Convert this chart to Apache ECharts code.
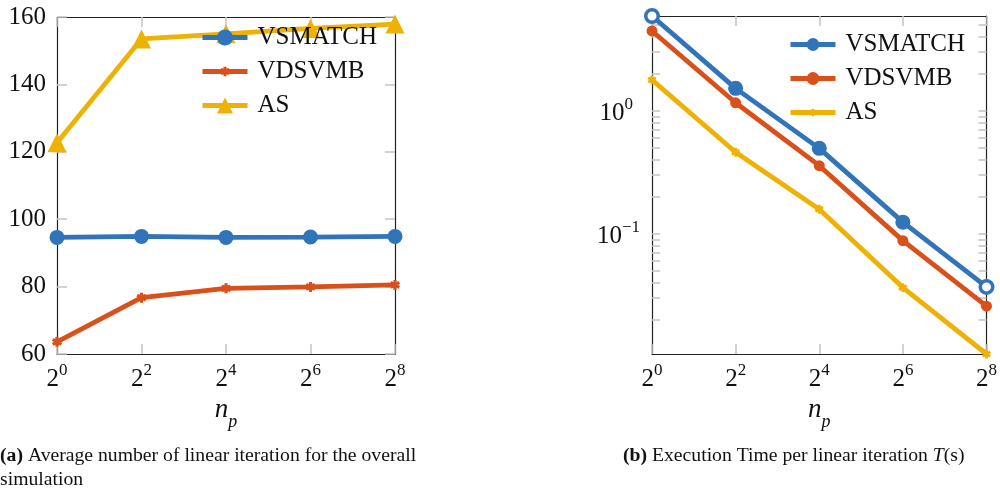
<!DOCTYPE html>
<html>
<head>
<meta charset="utf-8">
<script src="https://cdn.jsdelivr.net/npm/echarts@6/dist/echarts.min.js"></script>
<style>
  html, body { margin: 0; padding: 0; background: #fff; }
  #chart { width: 1000px; height: 492px; }
</style>
</head>
<body>
<div id="chart"></div>
<script>
// Number of processes n_p (powers of two)
const np = ['1', '4', '16', '64', '256'];

// (a) Average number of linear iterations
const iterVSMATCH = [94.6, 94.9, 94.6, 94.7, 94.9];
const iterVDSVMB  = [63.6, 76.7, 79.5, 79.9, 80.5];
const iterAS      = [122.7, 153.5, 155.0, 156.6, 157.9];

// (b) Execution time per linear iteration T(s)
const timeVSMATCH = [5.89, 1.52, 0.494, 0.124, 0.0369];
const timeVDSVMB  = [4.45, 1.16, 0.357, 0.0877, 0.0257];
const timeAS      = [1.78, 0.459, 0.158, 0.0364, 0.0105];

// Tick values
const iterTicks = [60, 80, 100, 120, 140, 160];
const timeMajor = [0.1, 1];
const timeMinor = [0.02, 0.03, 0.04, 0.05, 0.06, 0.07, 0.08, 0.09,
                   0.1, 0.2, 0.3, 0.4, 0.5, 0.6, 0.7, 0.8, 0.9, 1, 2, 3, 4, 5];

// log axis spans exactly the data range
const timeAll = [...timeVSMATCH, ...timeVDSVMB, ...timeAS];
const timeMin = Math.min(...timeAll);
const timeMax = Math.max(...timeAll);

const BLUE = '#3174b9';
const ORANGE = '#d9501a';
const YELLOW = '#edb204';
const SERIF = '"Liberation Serif", "DejaVu Serif", serif';
const TICK_COLOR = '#c4c4c4';
const BOX = '#222';

// six-armed asterisk with a transparent margin
const ASTERISK = 'path://M-8.5,-8.5 M8.5,8.5 ' +
  'M-1.6,-5 L1.6,-5 L1.6,5 L-1.6,5 Z ' +
  'M3.53,-3.89 L5.13,-1.11 L-3.53,3.89 L-5.13,1.11 Z ' +
  'M-5.13,-1.11 L-3.53,-3.89 L5.13,1.11 L3.53,3.89 Z';

const powRich = {
  b: { fontFamily: SERIF, fontSize: 25, lineHeight: 30, verticalAlign: 'bottom', color: '#111' },
  s: { fontFamily: SERIF, fontSize: 17, lineHeight: 15, verticalAlign: 'top', color: '#111' },
  sp: { fontFamily: SERIF, fontSize: 17, lineHeight: 12, verticalAlign: 'top', color: '#111', padding: [0, 7, 0, 0] },
  sn: { fontFamily: SERIF, fontSize: 17, lineHeight: 12, verticalAlign: 'top', color: '#111' }
};

const nameRich = {
  n: { fontFamily: SERIF, fontSize: 27, fontStyle: 'italic', color: '#111', padding: [0, 0, 7, 0], verticalAlign: 'bottom' },
  p: { fontFamily: SERIF, fontSize: 18, fontStyle: 'italic', color: '#111', verticalAlign: 'bottom' }
};

function npLabel(v) {
  return '{b|2}{s|' + Math.round(Math.log2(Number(v))) + '}';
}

function timeLabel(v) {
  const e = Math.round(Math.log10(v));
  return e < 0 ? '{b|10}{sn|\u2212' + (-e) + '}' : '{b|10}{sp|' + e + '}';
}

function xAxes(gridIndex) {
  const tick = { show: true, inside: true, length: 10, alignWithLabel: true, lineStyle: { color: TICK_COLOR, width: 1.5 } };
  return [
    {
      type: 'category', gridIndex, data: np, boundaryGap: false, position: 'bottom',
      axisLine: { lineStyle: { color: BOX, width: 1.2 } },
      axisTick: tick,
      axisLabel: { formatter: npLabel, rich: powRich, margin: 8 },
      splitLine: { show: false },
      name: '{n|n}{p|p}', nameLocation: 'middle', nameGap: 42,
      nameTextStyle: { rich: nameRich }
    },
    {
      type: 'category', gridIndex, data: np, boundaryGap: false, position: 'top',
      axisLine: { lineStyle: { color: BOX, width: 1.2 } },
      axisTick: tick,
      axisLabel: { show: false },
      splitLine: { show: false }
    }
  ];
}

const iterTick = { show: true, inside: true, length: 10, lineStyle: { color: TICK_COLOR, width: 1.5 } };
const timeTick = { show: true, inside: true, length: 8, customValues: timeMinor, lineStyle: { color: TICK_COLOR, width: 1.5 } };

const captionStyle = {
  fontFamily: SERIF, fontSize: 19.7, fontWeight: 'normal', color: '#111', lineHeight: 24,
  rich: {
    b: { fontFamily: SERIF, fontSize: 19.7, fontWeight: 'bold', color: '#111', lineHeight: 24 },
    i: { fontFamily: SERIF, fontSize: 19.7, fontStyle: 'italic', color: '#111', lineHeight: 24 }
  }
};

const legendText = { fontFamily: SERIF, fontSize: 25, color: '#111', padding: [0, 0, 0, 5] };

const option = {
  animation: false,
  backgroundColor: '#fff',
  title: [
    {
      text: '{b|(a)} Average number of linear iteration for the overall\nsimulation',
      left: 0, top: 444, padding: 0, textStyle: captionStyle
    },
    {
      text: '{b|(b)} Execution Time per linear iteration {i|T}(s)',
      left: 623, top: 444, padding: 0, textStyle: captionStyle
    }
  ],
  legend: [
    {
      data: ['VSMATCH', 'VDSVMB', 'AS'],
      orient: 'vertical', left: 200, top: 25, padding: 0,
      itemWidth: 45, itemHeight: 20, itemGap: 9,
      lineStyle: { width: 5 },
      textStyle: legendText
    },
    {
      data: ['VSMATCH (T)', 'VDSVMB (T)', 'AS (T)'],
      formatter: n => n.replace(' (T)', ''),
      orient: 'vertical', left: 788, top: 32, padding: 0,
      itemWidth: 45, itemHeight: 16, itemGap: 9,
      lineStyle: { width: 5 },
      textStyle: legendText
    }
  ],
  grid: [
    { left: 57, right: 605, top: 17, bottom: 138 },
    { left: 652, right: 10, top: 16, bottom: 138 }
  ],
  xAxis: [...xAxes(0), ...xAxes(1)],
  yAxis: [
    {
      type: 'value', gridIndex: 0, min: iterTicks[0], max: iterTicks[iterTicks.length - 1], interval: 20,
      axisLine: { show: true, lineStyle: { color: BOX, width: 1.2 } },
      axisTick: iterTick,
      axisLabel: { fontFamily: SERIF, fontSize: 25, color: '#111', margin: 11 },
      splitLine: { show: false }
    },
    {
      type: 'value', gridIndex: 0, position: 'right', min: iterTicks[0], max: iterTicks[iterTicks.length - 1], interval: 20,
      axisLine: { show: true, lineStyle: { color: BOX, width: 1.2 } },
      axisTick: iterTick,
      axisLabel: { show: false },
      splitLine: { show: false }
    },
    {
      type: 'log', logBase: 10, gridIndex: 1, min: timeMin, max: timeMax,
      axisLine: { show: true, lineStyle: { color: BOX, width: 1.2 } },
      axisTick: timeTick,
      axisLabel: { customValues: timeMajor, formatter: timeLabel, rich: powRich, margin: 12 },
      splitLine: { show: false }
    },
    {
      type: 'log', logBase: 10, gridIndex: 1, position: 'right', min: timeMin, max: timeMax,
      axisLine: { show: true, lineStyle: { color: BOX, width: 1.2 } },
      axisTick: timeTick,
      axisLabel: { show: false, customValues: timeMajor },
      splitLine: { show: false }
    }
  ],
  series: [
    {
      name: 'VSMATCH', type: 'line', xAxisIndex: 0, yAxisIndex: 0, data: iterVSMATCH, clip: false,
      symbol: 'circle', symbolSize: 15, color: BLUE, lineStyle: { width: 4.8, color: BLUE }, itemStyle: { color: BLUE }
    },
    {
      name: 'VDSVMB', type: 'line', xAxisIndex: 0, yAxisIndex: 0, data: iterVDSVMB, clip: false,
      symbol: ASTERISK, symbolSize: 17, color: ORANGE, lineStyle: { width: 4.8, color: ORANGE }, itemStyle: { color: ORANGE }
    },
    {
      name: 'AS', type: 'line', xAxisIndex: 0, yAxisIndex: 0, data: iterAS, clip: false,
      symbol: 'triangle', symbolSize: 19, color: YELLOW, lineStyle: { width: 4.8, color: YELLOW }, itemStyle: { color: YELLOW }
    },
    {
      name: 'VSMATCH (T)', type: 'line', xAxisIndex: 2, yAxisIndex: 2, clip: false,
      data: timeVSMATCH.map((v, i) => (i === 0 || i === timeVSMATCH.length - 1)
        ? { value: v, symbolSize: 12.5, itemStyle: { color: '#fff', borderColor: BLUE, borderWidth: 3.5 } }
        : v),
      symbol: 'circle', symbolSize: 15, color: BLUE, lineStyle: { width: 4.8, color: BLUE }, itemStyle: { color: BLUE }
    },
    {
      name: 'VDSVMB (T)', type: 'line', xAxisIndex: 2, yAxisIndex: 2, data: timeVDSVMB, clip: false,
      symbol: 'circle', symbolSize: 11, color: ORANGE, lineStyle: { width: 4.8, color: ORANGE }, itemStyle: { color: ORANGE }
    },
    {
      name: 'AS (T)', type: 'line', xAxisIndex: 2, yAxisIndex: 2, data: timeAS, clip: false,
      symbol: ASTERISK, symbolSize: 15, color: YELLOW, lineStyle: { width: 4.8, color: YELLOW }, itemStyle: { color: YELLOW }
    }
  ]
};

const chart = echarts.init(document.getElementById('chart'), null, { renderer: 'canvas' });
chart.setOption(option);
</script>
</body>
</html>
